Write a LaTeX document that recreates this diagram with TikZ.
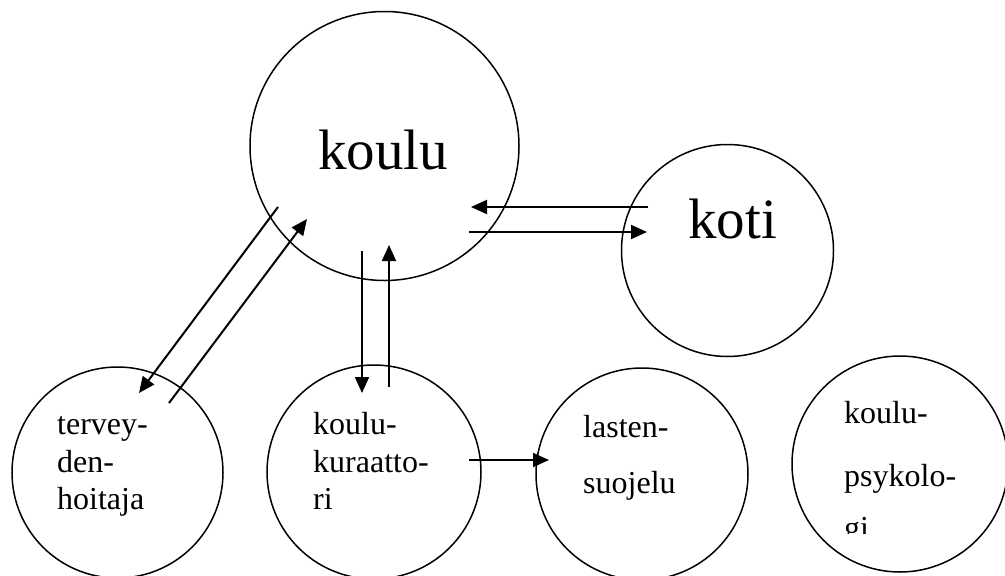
\documentclass[tikz,border=0pt]{standalone}
\usepackage{fontspec}
\setmainfont{Liberation Serif}
\usetikzlibrary{arrows.meta}
\begin{document}
\begin{tikzpicture}[x=1pt,y=-1pt,
  circ/.style={draw, circle, line width=1.5pt, inner sep=0pt},
  bigtxt/.style={anchor=base west, inner sep=0pt, font=\fontsize{57}{60}\selectfont},
  smalltxt/.style={anchor=base west, inner sep=0pt, font=\fontsize{32}{36}\selectfont},
  arr/.style={line width=2pt, -{Triangle[length=16pt,width=14pt]}}]
\useasboundingbox (0,0) rectangle (1005,576);
\clip (0,0) rectangle (1005,576);
% circles
\node[circ, minimum size=269pt] (koulu) at (384.5,146) {};
\node[circ, minimum size=212pt] (koti) at (727.5,250.5) {};
\node[circ, minimum size=211pt] (terv) at (117.5,472.5) {};
\node[circ, minimum size=214pt] (kuraattori) at (374,472) {};
\node[circ, minimum size=212pt] (lasten) at (642,474) {};
\node[circ, minimum size=216pt] (psyk) at (900,464) {};
% texts
\node[bigtxt] (tkoulu) at (318,169) {koulu};
\node[bigtxt] (tkoti) at (688,238) {koti};
\node[smalltxt] (t1a) at (57,434) {tervey-};
\node[smalltxt] (t1b) at (57,472) {den-};
\node[smalltxt] (t1c) at (57,509) {hoitaja};
\node[smalltxt] (t2a) at (313,434) {koulu-};
\node[smalltxt] (t2b) at (313,472) {kuraatto-};
\node[smalltxt] (t2c) at (313,509) {ri};
\node[smalltxt] (t3a) at (583,437) {lasten-};
\node[smalltxt] (t3b) at (583,493) {suojelu};
\node[smalltxt] (t4a) at (844,423) {koulu-};
\node[smalltxt] (t4b) at (844,486) {psykolo-};
\begin{scope}
\clip (780,500) rectangle (1005,533);
\node[smalltxt] (t4c) at (844,538) {gi};
\end{scope}
% connector end points
\coordinate (kotiL1) at (648,207);
\coordinate (kouluR1) at (471,207);
\coordinate (kouluR2) at (469,232);
\coordinate (kotiL2) at (647,232);
\coordinate (kouluB1) at (362,251);
\coordinate (kurT1) at (362,393);
\coordinate (kurT2) at (389,387);
\coordinate (kouluB2) at (389,245);
\coordinate (kouluL1) at (278,207);
\coordinate (tervT1) at (139,393);
\coordinate (tervT2) at (169,403);
\coordinate (kouluL2) at (307,219);
\coordinate (kurR) at (469,460);
\coordinate (lastenL) at (549,460);
% connectors
\draw[arr] (kotiL1) -- (kouluR1);
\draw[arr] (kouluR2) -- (kotiL2);
\draw[arr] (kouluB1) -- (kurT1);
\draw[arr] (kurT2) -- (kouluB2);
\draw[arr] (kouluL1) -- (tervT1);
\draw[arr] (tervT2) -- (kouluL2);
\draw[arr] (kurR) -- (lastenL);
\end{tikzpicture}
\end{document}
